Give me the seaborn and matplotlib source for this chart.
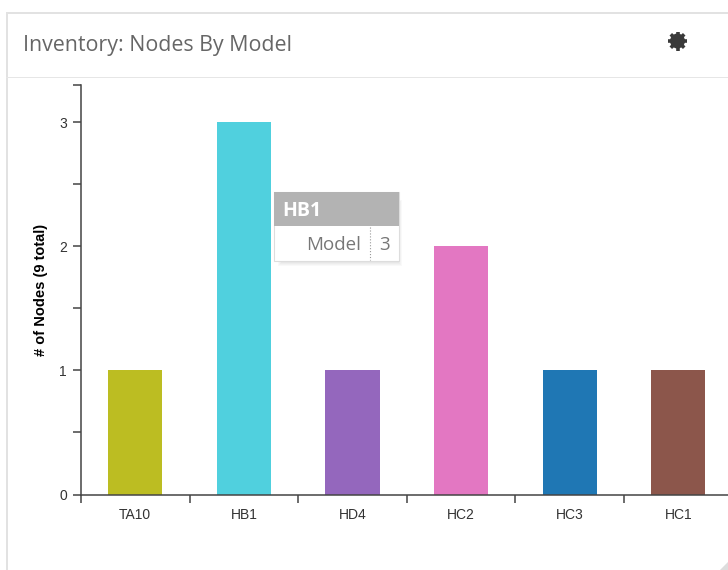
import matplotlib.pyplot as plt
import matplotlib.patches as mpatches
import numpy as np
import pandas as pd
import seaborn as sns

models = ['TA10', 'HB1', 'HD4', 'HC2', 'HC3', 'HC1']
node_counts = [1, 3, 1, 2, 1, 1]
bar_colors = ['#bcbd22', '#50d0de', '#9467bd', '#e377c2', '#1f77b4', '#8c564b']
y_ticks = [0, 1, 2, 3]
y_half_ticks = [0.5, 1.5, 2.5]

W, H = 728, 570

df = pd.DataFrame({'model': models, 'nodes': node_counts})

sns.set_style('white')
plt.rcParams['font.family'] = ['Liberation Sans', 'DejaVu Sans']

fig = plt.figure(figsize=(W / 100, H / 100), dpi=100)
ax = fig.add_axes([81 / W, 1 - 494.5 / H, (W - 81) / W, (494.5 - 85) / H])

sns.barplot(data=df, x='model', y='nodes', hue='model', palette=bar_colors,
            width=0.5, saturation=1, legend=False, linewidth=0, ax=ax)

ax.set_xlabel('')
ax.set_ylabel('# of Nodes (9 total)', fontsize=10.5, fontweight='bold',
              color='black', labelpad=8)

ax.spines['top'].set_visible(False)
ax.spines['right'].set_visible(False)
ax.spines['left'].set_color('#444444')
ax.spines['bottom'].set_color('#444444')
ax.spines['left'].set_linewidth(1.1)
ax.spines['bottom'].set_linewidth(1.1)

ax.set_xticks(range(len(models)))
ax.set_xticklabels(models)
ax.set_xticks([i - 0.5 for i in range(len(models))], minor=True)
ax.tick_params(axis='x', which='major', length=0, pad=9.5, labelsize=10, labelcolor='#333333')
ax.tick_params(axis='x', which='minor', length=6, width=1.1, color='#444444', bottom=True)

ax.set_yticks(y_ticks)
ax.set_yticks(y_half_ticks + [3.3], minor=True)
ax.tick_params(axis='y', which='major', length=6, width=1.1, color='#444444', left=True,
               pad=4, labelsize=10, labelcolor='#333333')
ax.tick_params(axis='y', which='minor', length=6, width=1.1, color='#444444', left=True)

# set the range last, set_xticks widens it. bands are about 108.6 px wide
ax.set_xlim(-0.5, -0.5 + (W - 81) / 108.6)
ax.set_ylim(0, 3.3)

# card around the chart
def px_rect(x0, y0, w, h, **kw):
    r = mpatches.Rectangle((x0 / W, 1 - (y0 + h) / H), w / W, h / H,
                           transform=fig.transFigure, **kw)
    fig.add_artist(r)
    return r

px_rect(6, 12, 2, H - 12, fc='#e2e2e2', ec='none')
px_rect(6, 12, W - 6, 1.5, fc='#e2e2e2', ec='none')
px_rect(6, 76.5, W - 6, 1.5, fc='#e6e6e6', ec='none')

fig.text(23 / W, 1 - 45 / H, 'Inventory: Nodes By Model', fontsize=15.4, color='#666666',
         family='Open Sans', va='center', ha='left')

# settings gear, centre (677.5, 41) in pixels
gear_x, gear_y = 677.5 / W, 1 - 41 / H
for a in np.arange(0, np.pi, np.pi / 4):
    dx, dy = 9.5 * np.cos(a) / W, 9.5 * np.sin(a) / H
    fig.add_artist(plt.Line2D([gear_x - dx, gear_x + dx], [gear_y - dy, gear_y + dy],
                              color='#3a3a3a', lw=2.6, solid_capstyle='butt',
                              transform=fig.transFigure))
fig.add_artist(mpatches.Ellipse((gear_x, gear_y), 15 / W, 15 / H, fc='#3a3a3a', ec='none',
                                transform=fig.transFigure))
fig.add_artist(mpatches.Ellipse((gear_x, gear_y), 6.5 / W, 6.5 / H, fc='white', ec='none',
                                transform=fig.transFigure))

# tooltip
for i in range(5):
    px_rect(278 + i, 200 + i, 124 - 2 * i, 66 - 2 * i, fc='black', ec='none', alpha=0.025)
px_rect(274, 192, 125, 69, fc='white', ec='#dddddd', lw=0.8)
px_rect(274, 192, 125, 34, fc='#b3b3b3', ec='none')
fig.text(282 / W, 1 - 211 / H, 'HB1', fontsize=14, fontweight='bold', color='white',
         family='Open Sans', va='center', ha='left')
fig.text(360.5 / W, 1 - 244.5 / H, 'Model', fontsize=13.5, color='#777777',
         family='Open Sans', va='center', ha='right')
fig.text(385 / W, 1 - 244.5 / H, '3', fontsize=13.5, color='#777777',
         family='Open Sans', va='center', ha='center')
fig.add_artist(plt.Line2D([369.5 / W, 369.5 / W], [1 - 227 / H, 1 - 260 / H], color='#999999',
                          lw=0.8, ls=':', transform=fig.transFigure))

# resize corner
fig.add_artist(mpatches.Polygon([[1, 0], [1, 8 / H], [1 - 8 / W, 0]], closed=True, fc='#dddddd',
                                ec='none', transform=fig.transFigure))

plt.savefig('out.png', dpi=100)
